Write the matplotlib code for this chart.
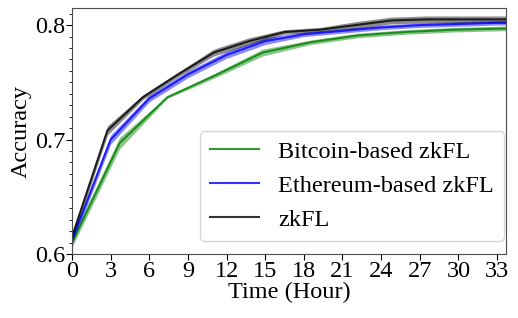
import matplotlib
matplotlib.use("Agg")
import matplotlib.pyplot as plt
import numpy as np
from matplotlib.ticker import MultipleLocator

plt.rcParams['font.family'] = ['Liberation Serif', 'DejaVu Serif']

# zkFL
zk_time = [0, 2.75, 5.5, 8.25, 11, 13.75, 16.5, 19.25, 22, 24.75, 27.5, 30.25, 33, 35.75]
zk_acc = [0.615, 0.708, 0.737, 0.757, 0.776, 0.786, 0.794, 0.796, 0.800, 0.804, 0.805, 0.805, 0.805, 0.805]
zk_std = [0.004, 0.004, 0.002, 0.002, 0.003, 0.003, 0.002, 0.002, 0.003, 0.003, 0.003, 0.003, 0.003, 0.003]

# Ethereum-based zkFL
eth_time = [0, 3, 6, 9, 12, 15, 18, 21, 24, 27, 30, 33, 36]
eth_acc = [0.612, 0.700, 0.736, 0.757, 0.774, 0.786, 0.792, 0.795, 0.798, 0.800, 0.801, 0.802, 0.802]
eth_std = [0.004, 0.004, 0.003, 0.003, 0.003, 0.003, 0.002, 0.002, 0.002, 0.002, 0.002, 0.002, 0.002]

# Bitcoin-based zkFL
btc_time = [0, 3.7, 7.4, 11.1, 14.8, 18.5, 22.2, 25.9, 29.6, 33.3, 37]
btc_acc = [0.610, 0.697, 0.737, 0.756, 0.776, 0.785, 0.791, 0.794, 0.796, 0.797, 0.798]
btc_std = [0.004, 0.005, 0.001, 0.002, 0.003, 0.002, 0.002, 0.002, 0.002, 0.002, 0.002]

series = [
    ("Bitcoin-based zkFL", btc_time, btc_acc, btc_std, "green"),
    ("Ethereum-based zkFL", eth_time, eth_acc, eth_std, "blue"),
    ("zkFL", zk_time, zk_acc, zk_std, "black"),
]

fig = plt.figure(figsize=(5.18, 3.18), dpi=100)
ax = fig.add_axes([0.139, 0.201, 0.838, 0.774])

for label, t, m, s, c in series:
    t = np.array(t)
    m = np.array(m)
    s = np.array(s)
    ax.plot(t, m, color=c, lw=1.5, alpha=0.8, label=label)
    ax.fill_between(t, m - s, m + s, color=c, alpha=0.45, lw=0)

ax.set_xlim(0, 33.7)
ax.set_ylim(0.6, 0.815)
ax.set_xticks(range(0, 34, 3))
ax.set_yticks([0.6, 0.7, 0.8])
ax.yaxis.set_minor_locator(MultipleLocator(0.01))
ax.tick_params(labelsize=17.5, length=4, pad=1)
ax.tick_params(which='minor', length=2.5)
ax.set_xlabel("Time (Hour)", fontsize=17.5, labelpad=0)
ax.set_ylabel("Accuracy", fontsize=17.5, labelpad=2)
for sp in ax.spines.values():
    sp.set_color('0.3')

ax.legend(loc='lower right', fontsize=17.5, handlelength=2.0, handletextpad=0.8,
          borderaxespad=0.1, labelspacing=0.5, bbox_to_anchor=(1.0, 0.045))

fig.savefig("out.png", dpi=100)
